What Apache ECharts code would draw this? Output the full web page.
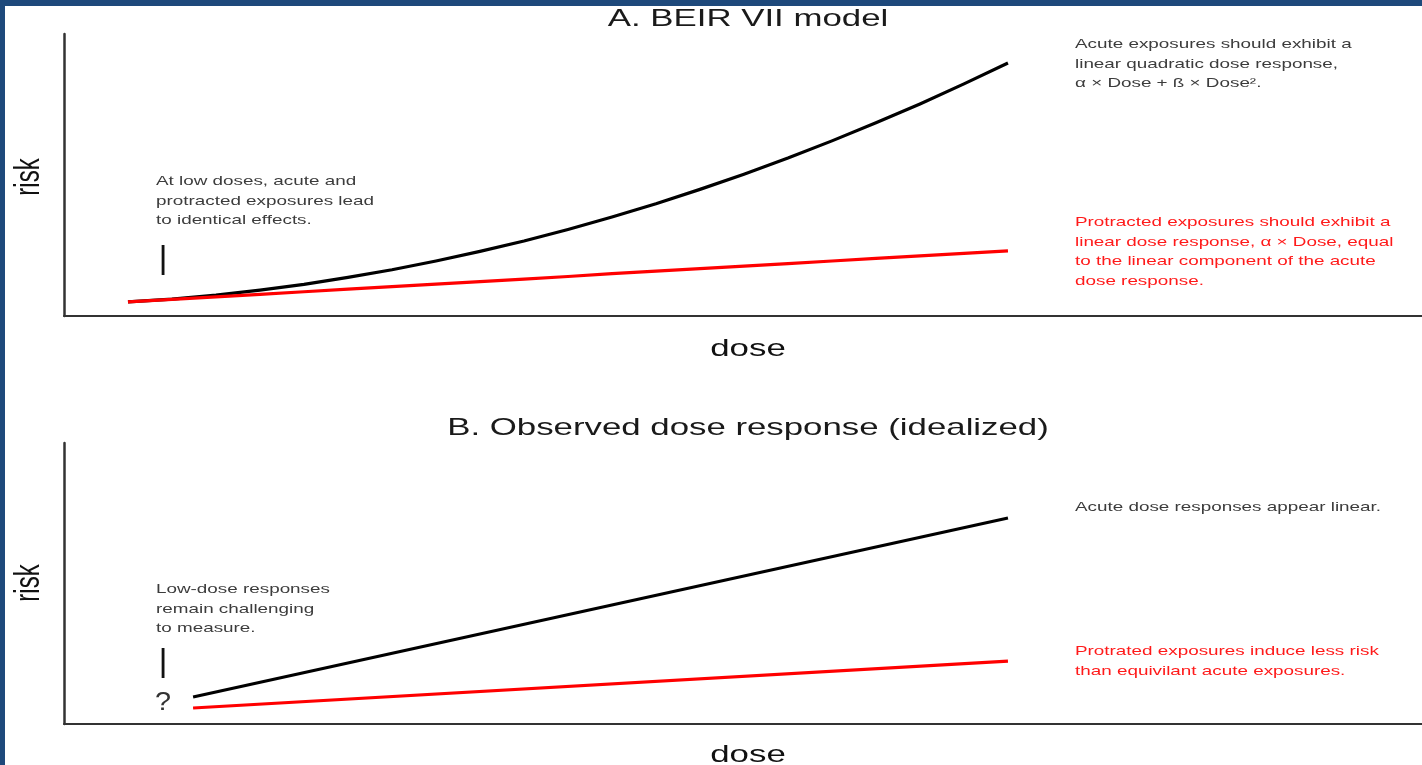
<!DOCTYPE html>
<html>
<head>
<meta charset="utf-8">
<script src="https://cdn.jsdelivr.net/npm/echarts@6/dist/echarts.min.js"></script>
<style>
  html, body { margin: 0; padding: 0; background: #ffffff; }
  #chart { position: absolute; left: 0; top: 0; width: 1422px; height: 765px; }
  .frameTop { position: absolute; left: 0; top: 0; width: 1422px; height: 6px; background: #1e497b; z-index: 5; }
  .frameLeft { position: absolute; left: 0; top: 0; width: 5px; height: 765px; background: #1e497b; z-index: 5; }
</style>
</head>
<body>
<div id="chart"></div>
<div class="frameTop"></div>
<div class="frameLeft"></div>
<script>
// ---- data (arbitrary units) ----
const doseA = [0, 0.5, 1, 1.5, 2, 2.5, 3, 3.5, 4, 4.5, 5, 5.5, 6, 6.5, 7, 7.5, 8, 8.5, 9, 9.5, 10];
const acuteA = [0.50, 0.60, 0.74, 0.92, 1.12, 1.37, 1.64, 1.95, 2.29, 2.66, 3.07,
                3.51, 3.98, 4.49, 5.03, 5.60, 6.21, 6.85, 7.52, 8.23, 8.97];
const protractedA = [0.50, 0.59, 0.68, 0.77, 0.86, 0.95, 1.04, 1.13, 1.22, 1.31, 1.40,
                     1.50, 1.59, 1.68, 1.77, 1.86, 1.95, 2.04, 2.13, 2.22, 2.31];

const doseB = [0.74, 10];
const acuteB = [0.96, 7.33];
const protractedB = [0.57, 2.24];

const titles = ['A. BEIR VII model', 'B. Observed dose response (idealized)'];
const axisX = 'dose';
const axisY = 'risk';

const noteLeftA = 'At low doses, acute and\nprotracted exposures lead\nto identical effects.';
const noteLeftB = 'Low-dose responses\nremain challenging\nto measure.';
const noteAcuteA = 'Acute exposures should exhibit a\nlinear quadratic dose response,\n\u03b1 \u00d7 Dose + \u00df \u00d7 Dose\u00b2.';
const noteProtA = 'Protracted exposures should exhibit a\nlinear dose response, \u03b1 \u00d7 Dose, equal\nto the linear component of the acute\ndose response.';
const noteAcuteB = 'Acute dose responses appear linear.';
const noteProtB = 'Protrated exposures induce less risk\nthan equivilant acute exposures.';

// ---- chart ----
const FONT = "'Liberation Sans', Arial, Helvetica, sans-serif";
const SX = 1.45; // the reference is horizontally stretched

function pairs(xs, ys) { return xs.map((x, i) => [x, ys[i]]); }

function txt(text, x, y, opts) {
  opts = opts || {};
  const align = opts.align || 'left';
  const valign = opts.valign || 'top';
  return {
    type: 'text',
    x: x, y: y,
    scaleX: opts.scaleX !== undefined ? opts.scaleX : SX,
    scaleY: opts.scaleY !== undefined ? opts.scaleY : 1,
    rotation: opts.rotation || 0,
    z: 10,
    silent: true,
    style: {
      text: text,
      fontFamily: FONT,
      fontSize: opts.size || 13,
      fill: opts.color || '#3c3c3c',
      align: align, textAlign: align,
      verticalAlign: valign, textVerticalAlign: valign,
      lineHeight: opts.lh || 19.5
    }
  };
}

const xAxisBase = {
  type: 'value', min: -0.727, max: 14.705,
  axisLine: { show: true, onZero: false, lineStyle: { color: '#333333', width: 2 } },
  axisTick: { show: false }, axisLabel: { show: false }, splitLine: { show: false }
};
const yAxisBase = {
  type: 'value', min: 0, max: 10,
  axisLine: { show: true, onZero: false, lineStyle: { color: '#333333', width: 2.5 } },
  axisTick: { show: false }, axisLabel: { show: false }, splitLine: { show: false }
};

const chart = echarts.init(document.getElementById('chart'), null, { renderer: 'canvas' });
chart.setOption({
  backgroundColor: '#ffffff',
  animation: false,
  grid: [
    { left: 64, right: 0, top: 34, height: 282 },
    { left: 64, right: 0, top: 443, height: 281 }
  ],
  xAxis: [
    Object.assign({ gridIndex: 0 }, xAxisBase),
    Object.assign({ gridIndex: 1 }, xAxisBase)
  ],
  yAxis: [
    Object.assign({ gridIndex: 0 }, yAxisBase),
    Object.assign({ gridIndex: 1 }, yAxisBase)
  ],
  series: [
    { name: 'Acute (A)', type: 'line', xAxisIndex: 0, yAxisIndex: 0, data: pairs(doseA, acuteA),
      smooth: false, showSymbol: false, lineStyle: { color: '#000000', width: 3.2, cap: 'butt', join: 'round' } },
    { name: 'Protracted (A)', type: 'line', xAxisIndex: 0, yAxisIndex: 0, data: pairs(doseA, protractedA),
      smooth: false, showSymbol: false, lineStyle: { color: '#ff0000', width: 3.2, cap: 'butt', join: 'round' } },
    { name: 'Acute (B)', type: 'line', xAxisIndex: 1, yAxisIndex: 1, data: pairs(doseB, acuteB),
      showSymbol: false, lineStyle: { color: '#000000', width: 3.2, cap: 'butt' } },
    { name: 'Protracted (B)', type: 'line', xAxisIndex: 1, yAxisIndex: 1, data: pairs(doseB, protractedB),
      showSymbol: false, lineStyle: { color: '#ff0000', width: 3.2, cap: 'butt' } }
  ],
  graphic: [
    txt(titles[0], 748, 19, { align: 'center', valign: 'middle', size: 24, color: '#1a1a1a' }),
    txt(titles[1], 748, 428, { align: 'center', valign: 'middle', size: 24, color: '#1a1a1a' }),
    txt(axisX, 748, 349, { align: 'center', valign: 'middle', size: 24, color: '#111111' }),
    txt(axisX, 748, 755, { align: 'center', valign: 'middle', size: 24, color: '#111111' }),
    txt(axisY, 29, 177, { align: 'center', valign: 'middle', size: 24, color: '#111111', rotation: Math.PI / 2, scaleX: 1, scaleY: SX }),
    txt(axisY, 29, 583, { align: 'center', valign: 'middle', size: 24, color: '#111111', rotation: Math.PI / 2, scaleX: 1, scaleY: SX }),
    txt(noteLeftA, 156, 172, {}),
    txt('|', 163, 259, { align: 'center', valign: 'middle', size: 32, color: '#111111', scaleX: 1.1 }),
    txt(noteLeftB, 156, 580, {}),
    txt('|', 163, 662, { align: 'center', valign: 'middle', size: 32, color: '#111111', scaleX: 1.1 }),
    txt('?', 163, 703, { align: 'center', valign: 'middle', size: 25, color: '#333333', scaleX: 1.15 }),
    txt(noteAcuteA, 1075, 35, {}),
    txt(noteProtA, 1075, 213, { color: '#ff1a1a' }),
    txt(noteAcuteB, 1075, 498, {}),
    txt(noteProtB, 1075, 642, { color: '#ff1a1a' })
  ]
});
</script>
</body>
</html>
